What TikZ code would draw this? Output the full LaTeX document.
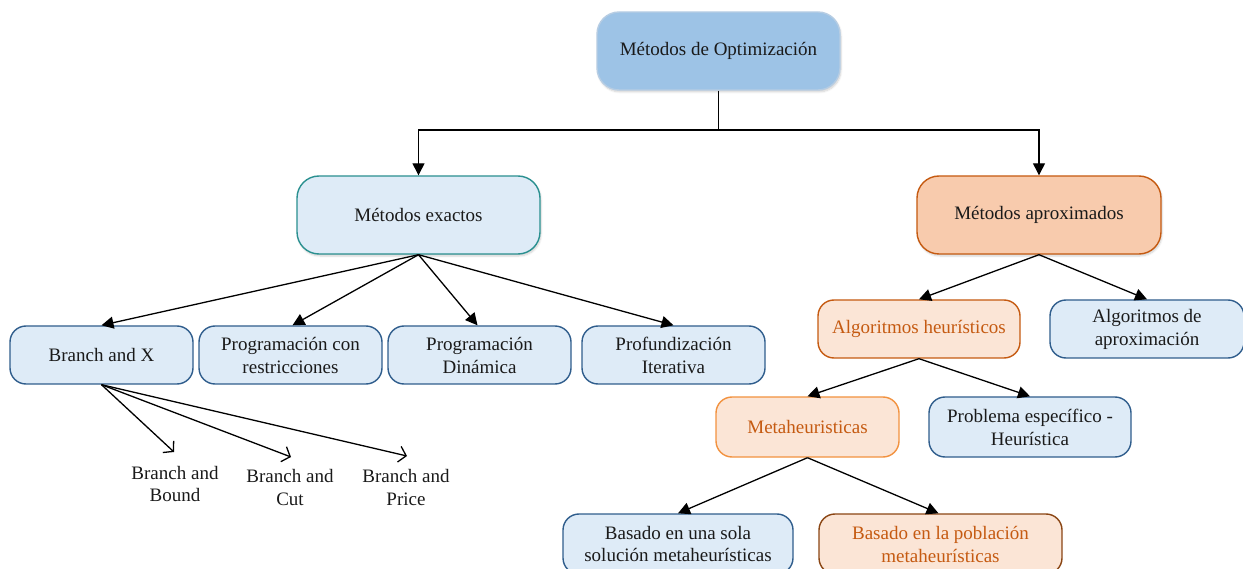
\documentclass[tikz,border=0pt]{standalone}
\usepackage{fontspec}
\setmainfont{Liberation Serif}
\usetikzlibrary{arrows.meta,shadows.blur}

\definecolor{topfill}{HTML}{9DC3E6}
\definecolor{topline}{HTML}{B7CDE3}
\definecolor{bluefill}{HTML}{DEEBF7}
\definecolor{blueline}{HTML}{2F5D8C}
\definecolor{tealline}{HTML}{2A9090}
\definecolor{peach}{HTML}{F8CBAD}
\definecolor{lightpeach}{HTML}{FBE5D6}
\definecolor{rust}{HTML}{C55A11}
\definecolor{lightorange}{HTML}{F2923F}
\definecolor{brown}{HTML}{8A4513}
\definecolor{ink}{HTML}{1A1A1A}

\tikzset{
  box/.style={draw, line width=1.4pt, rounded corners=16pt, align=center,
    text=ink, font=\fontsize{19}{23}\selectfont, inner sep=0pt},
  bigbox/.style={box, minimum width=243pt, minimum height=78pt, rounded corners=22pt,
    blur shadow={shadow xshift=1pt, shadow yshift=-2pt, shadow blur steps=6, shadow opacity=18}},
  bluebox/.style={box, fill=bluefill, draw=blueline},
  orangebox/.style={box, fill=lightpeach, draw=rust, text=rust},
  link/.style={line width=1.3pt, -{Triangle[length=12pt,width=12pt]}},
  openlink/.style={line width=1.3pt, -{Straight Barb[length=7pt,width=16pt]}},
  plain/.style={align=center, text=ink, font=\fontsize{19}{23}\selectfont, inner sep=0pt}
}

\begin{document}
\begin{tikzpicture}[x=1pt,y=-1pt]
\useasboundingbox (0,0) rectangle (1243,569);

% top level
\node[bigbox, fill=topfill, draw=topline] (top) at (718.5,51) {Métodos de Optimización};

% second level
\node[bigbox, fill=bluefill, draw=tealline] (exa) at (418.5,215) {Métodos exactos};
\node[bigbox, fill=peach, draw=rust, minimum width=244pt] (apr) at (1039,215) {Métodos aproximados};

% exact methods
\node[bluebox, minimum width=183pt, minimum height=58pt] (bx)  at (101.5,355) {Branch and X};
\node[bluebox, minimum width=183pt, minimum height=58pt] (pcr) at (290.5,355) {Programación con\\restricciones};
\node[bluebox, minimum width=183pt, minimum height=58pt] (pd)  at (479.5,355) {Programación\\Dinámica};
\node[bluebox, minimum width=183pt, minimum height=58pt] (pi)  at (673.5,355) {Profundización\\Iterativa};

% approximate methods
\node[orangebox, minimum width=202pt, minimum height=58pt] (ah) at (919,329) {Algoritmos heurísticos};
\node[bluebox, minimum width=194pt, minimum height=58pt] (aa) at (1147,329) {Algoritmos de\\aproximación};

\node[orangebox, draw=lightorange, minimum width=183pt, minimum height=60pt] (meta) at (807.5,427) {Metaheuristicas};
\node[bluebox, minimum width=202pt, minimum height=60pt] (pe) at (1030,427) {Problema específico -\\Heurística};

\node[bluebox, minimum width=230pt, minimum height=60pt] (bus) at (678,544) {Basado en una sola\\solución metaheurísticas};
\node[orangebox, draw=brown, minimum width=243pt, minimum height=60pt] (bpo) at (940.5,544) {Basado en la población\\metaheurísticas};

% branch variants
\node[plain] (bbound) at (175,484) {Branch and\\Bound};
\node[plain] (bcut)   at (290,487) {Branch and\\Cut};
\node[plain] (bprice) at (406,487) {Branch and\\Price};
\coordinate (tbound) at (174,452);
\coordinate (tcut)   at (291,457);
\coordinate (tprice) at (407,456);

% connectors
\coordinate (split) at (718.5,130);
\draw[line width=1.3pt] (top.south) -- (split);
\draw[link] (split) -| (exa.north);
\draw[link] (split) -| (apr.north);

\draw[link] (exa.south) -- (bx.north);
\draw[link] (exa.south) -- ([xshift=2pt]pcr.north);
\draw[link] (exa.south) -- ([xshift=-2pt]pd.north);
\draw[link] (exa.south) -- (pi.north);

\draw[link] (apr.south) -- (ah.north);
\draw[link] (apr.south) -- (aa.north);

\draw[link] (ah.south) -- (meta.north);
\draw[link] (ah.south) -- (pe.north);

\draw[link] (meta.south) -- (bus.north);
\draw[link] (meta.south) -- ([xshift=-2pt]bpo.north);

\draw[openlink] (bx.south) -- (tbound);
\draw[openlink] (bx.south) -- (tcut);
\draw[openlink] (bx.south) -- (tprice);
\end{tikzpicture}
\end{document}
